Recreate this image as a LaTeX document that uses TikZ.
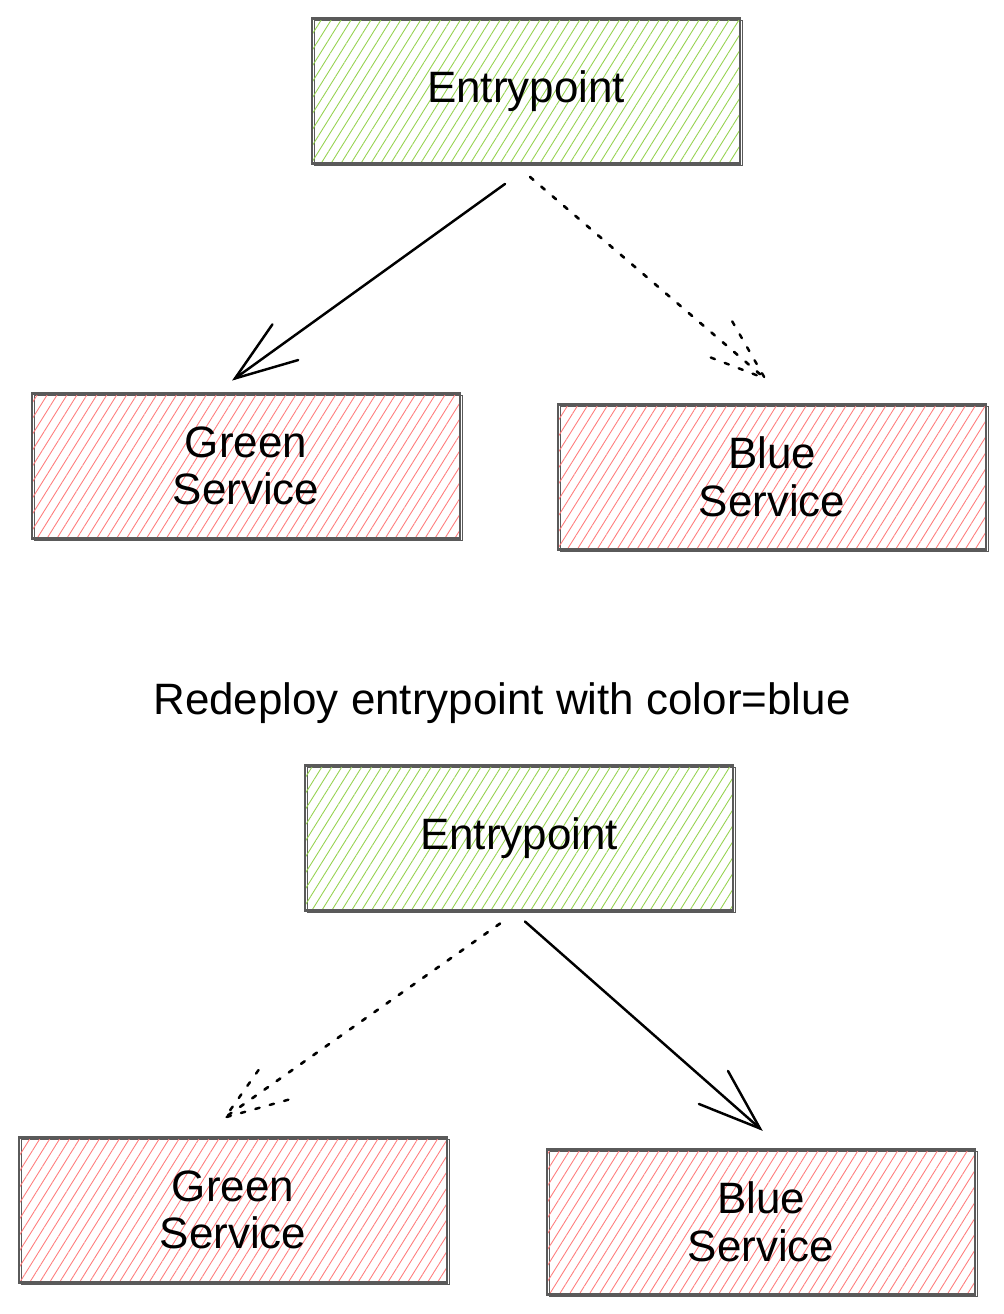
\documentclass[tikz,border=0pt]{standalone}
\usepackage{fontspec}
\setmainfont{Liberation Sans}
\usetikzlibrary{patterns.meta,decorations.markings}

\definecolor{boxline}{RGB}{90,90,90}
\definecolor{hatchgreen}{RGB}{150,210,80}
\definecolor{hatchred}{RGB}{255,125,125}

\tikzset{
  sketchbox/.style={draw=boxline, line width=1.2pt, minimum width=8.56cm, minimum height=2.9cm,
    inner sep=0pt, align=center, font=\fontsize{25}{27}\selectfont,
    preaction={draw=boxline, line width=0.6pt, transform canvas={xshift=1.5pt, yshift=-1.2pt}}},
  entrybox/.style={sketchbox, pattern={Lines[angle=58, distance=4.8pt, line width=0.5pt]}, pattern color=hatchgreen},
  servicebox/.style={sketchbox, pattern={Lines[angle=58, distance=4.8pt, line width=0.5pt]}, pattern color=hatchred},
  headlines/.style={postaction={decorate, decoration={markings, mark=at position 1 with
    {\draw[line width=1.4pt, line cap=round, #1] (-1.24,0.44) -- (0,0) -- (-1.24,-0.44);}}}},
  livearrow/.style={line width=1.4pt, line cap=round, headlines={solid}},
  idlearrow/.style={line width=1.5pt, line cap=round, dash pattern=on 2.5pt off 6pt,
    headlines={dash pattern=on 2.5pt off 6pt}},
}

\begin{document}
\begin{tikzpicture}
\useasboundingbox (0,0) rectangle (20.06,-26.28);

% before: entrypoint points at green
\node[entrybox] (entry1) at (10.52,-1.82) {Entrypoint};
\node[servicebox] (green1) at (4.92,-9.32) {Green\\Service};
\node[servicebox] (blue1) at (15.44,-9.54) {Blue\\Service};

\draw[livearrow] ([xshift=-0.42cm,yshift=-0.4cm]entry1.south) -- ([xshift=-0.22cm,yshift=0.28cm]green1.north);
\draw[idlearrow] ([xshift=0.08cm,yshift=-0.26cm]entry1.south) -- ([xshift=-0.14cm,yshift=0.5cm]blue1.north);

\node[font=\fontsize{25}{27}\selectfont, anchor=base] (redeploy) at (10.04,-14.28) {Redeploy entrypoint with color=blue};

% after: entrypoint points at blue
\node[entrybox] (entry2) at (10.38,-16.76) {Entrypoint};
\node[servicebox] (green2) at (4.66,-24.2) {Green\\Service};
\node[servicebox] (blue2) at (15.22,-24.44) {Blue\\Service};

\draw[idlearrow] ([xshift=-0.38cm,yshift=-0.24cm]entry2.south) -- ([xshift=-0.16cm,yshift=0.38cm]green2.north);
\draw[livearrow] ([xshift=0.12cm,yshift=-0.2cm]entry2.south) -- ([xshift=-0.02cm,yshift=0.4cm]blue2.north);

\end{tikzpicture}
\end{document}
